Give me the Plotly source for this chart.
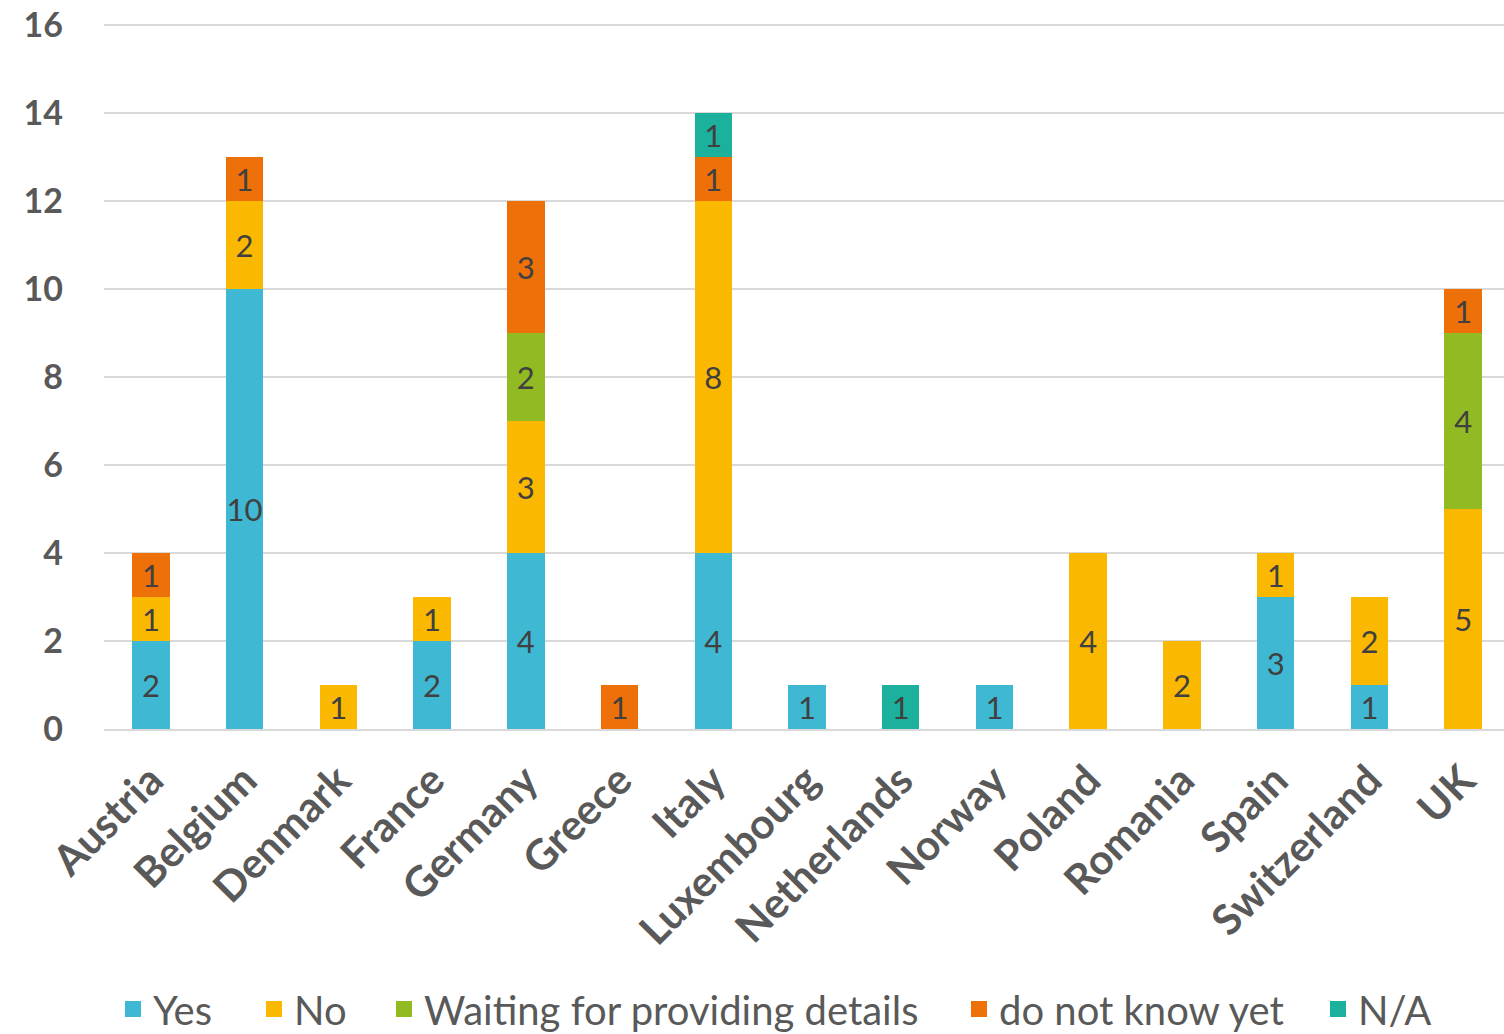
import plotly.graph_objects as go

countries = ["Austria", "Belgium", "Denmark", "France", "Germany", "Greece", "Italy",
             "Luxembourg", "Netherlands", "Norway", "Poland", "Romania", "Spain",
             "Switzerland", "UK"]

yes = [2, 10, 0, 2, 4, 0, 4, 1, 0, 1, 0, 0, 3, 1, 0]
no = [1, 2, 1, 1, 3, 0, 8, 0, 0, 0, 4, 2, 1, 2, 5]
waiting = [0, 0, 0, 0, 2, 0, 0, 0, 0, 0, 0, 0, 0, 0, 4]
dont_know = [1, 1, 0, 0, 3, 1, 1, 0, 0, 0, 0, 0, 0, 0, 1]
na = [0, 0, 0, 0, 0, 0, 1, 0, 1, 0, 0, 0, 0, 0, 0]

series = [
    ("Yes", yes, "#3FB8D3"),
    ("No", no, "#FBB800"),
    ("Waiting for providing details", waiting, "#92BA22"),
    ("do not know yet", dont_know, "#EE7008"),
    ("N/A", na, "#1BB19C"),
]

FONT = "Lato"
# figure geometry (page body margin is set to 0 below)
FIG_W, FIG_H = 1510, 1042
PLOT_L, PLOT_W = 104, 1406
PLOT_T, PLOT_H = 24, 705
PLOT_B = PLOT_T + PLOT_H

fig = go.Figure()
for name, vals, color in series:
    fig.add_trace(go.Bar(
        name=name,
        x=countries,
        y=[v if v else None for v in vals],
        text=[str(v) if v else "" for v in vals],
        textposition="inside",
        insidetextanchor="middle",
        textangle=0,
        constraintext="none",
        insidetextfont=dict(family=FONT, size=31, color="#404040"),
        marker=dict(color=color, line=dict(width=0)),
        width=0.4,
        showlegend=False,
    ))

# legend entries (square swatches), one legend box per entry
legend_px = [113, 254, 384, 959, 1318]  # left edge of each entry box (px)
legend_ids = ["legend", "legend2", "legend3", "legend4", "legend5"]
legend_layout = {}
for (name, vals, color), lid, lx in zip(series, legend_ids, legend_px):
    fig.add_trace(go.Scatter(
        name=name, x=[None], y=[None], mode="markers",
        marker=dict(symbol="square", size=16, color=color),
        showlegend=True, legend=lid,
    ))
    legend_layout[lid] = dict(
        x=(lx - PLOT_L) / PLOT_W, xanchor="left",
        y=(PLOT_B - 1009) / PLOT_H, yanchor="middle",
        font=dict(family=FONT, size=40, color="#595959"),
        itemsizing="trace", itemwidth=30,
        bgcolor="rgba(0,0,0,0)",
    )

fig.update_layout(
    barmode="stack",
    width=FIG_W, height=FIG_H,
    margin=dict(l=PLOT_L, r=FIG_W - PLOT_L - PLOT_W, t=PLOT_T, b=FIG_H - PLOT_B),
    plot_bgcolor="white", paper_bgcolor="white",
    font=dict(family=FONT, color="#595959"),
    **legend_layout,
)
fig.update_yaxes(
    range=[0, 16.03], tickvals=[0, 2, 4, 6, 8, 10, 12, 14, 16],
    showgrid=True, gridcolor="#D9D9D9", gridwidth=2,
    zeroline=False, showline=False, automargin=False,
    tickfont=dict(family=FONT, size=34, color="#595959", weight="bold"),
    ticks="", ticklabelstandoff=40, ticklabeloverflow="allow",
)
fig.update_xaxes(
    tickangle=-45, automargin=False,
    showline=True, linecolor="#D9D9D9", linewidth=2,
    tickfont=dict(family=FONT, size=42, color="#595959", weight="bold"),
    ticks="", ticklabelstandoff=8, ticklabeloverflow="allow",
)

fig.write_html("out.html",
               config={"displayModeBar": False},
               post_script="document.body.style.margin='0px';"
                           "document.body.style.overflow='hidden';")
